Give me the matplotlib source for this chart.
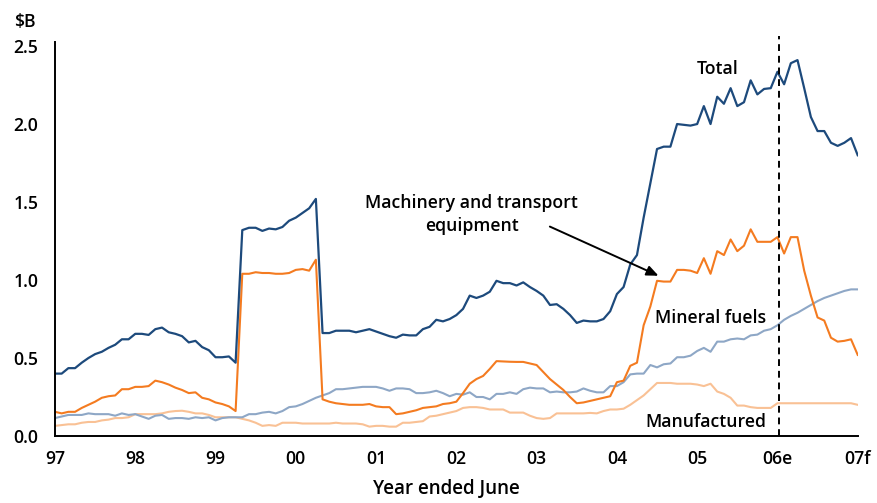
import numpy as np
import matplotlib
matplotlib.use("Agg")
import matplotlib.pyplot as plt

plt.rcParams['font.family'] = ['Open Sans', 'DejaVu Sans']

# monthly values, $B, from 97 to 07f
total = [0.40, 0.40, 0.435, 0.435, 0.47, 0.50, 0.525, 0.54, 0.565, 0.585,
         0.62, 0.62, 0.655, 0.655, 0.648, 0.685, 0.695, 0.665, 0.655, 0.64,
         0.60, 0.61, 0.57, 0.55, 0.505, 0.505, 0.51, 0.47, 1.32, 1.335,
         1.335, 1.315, 1.33, 1.325, 1.34, 1.38, 1.40, 1.43, 1.46, 1.52,
         0.66, 0.66, 0.675, 0.675, 0.675, 0.665, 0.675, 0.685, 0.67, 0.655,
         0.64, 0.63, 0.65, 0.645, 0.645, 0.685, 0.70, 0.745, 0.735, 0.75,
         0.775, 0.815, 0.90, 0.885, 0.90, 0.925, 0.995, 0.98, 0.98, 0.965,
         0.985, 0.955, 0.93, 0.90, 0.84, 0.845, 0.815, 0.775, 0.725, 0.74,
         0.735, 0.735, 0.75, 0.80, 0.91, 0.955, 1.10, 1.16, 1.40, 1.62,
         1.84, 1.855, 1.855, 2.00, 1.995, 1.99, 2.00, 2.115, 2.00, 2.175,
         2.13, 2.23, 2.115, 2.14, 2.28, 2.19, 2.225, 2.23, 2.335, 2.255,
         2.39, 2.41, 2.23, 2.045, 1.955, 1.955, 1.88, 1.86, 1.88, 1.91,
         1.80]

machinery = [0.155, 0.145, 0.155, 0.155, 0.18, 0.20, 0.22, 0.245, 0.255, 0.26,
             0.30, 0.30, 0.315, 0.315, 0.32, 0.355, 0.345, 0.33, 0.31, 0.295,
             0.275, 0.28, 0.245, 0.235, 0.215, 0.205, 0.19, 0.16, 1.04, 1.04,
             1.05, 1.045, 1.045, 1.04, 1.04, 1.045, 1.065, 1.07, 1.06, 1.13,
             0.235, 0.22, 0.21, 0.205, 0.20, 0.20, 0.20, 0.205, 0.19, 0.185,
             0.185, 0.14, 0.145, 0.155, 0.165, 0.18, 0.185, 0.19, 0.205, 0.21,
             0.22, 0.275, 0.335, 0.365, 0.385, 0.43, 0.48, 0.478, 0.476, 0.475,
             0.475, 0.465, 0.455, 0.41, 0.365, 0.33, 0.295, 0.25, 0.21, 0.215,
             0.225, 0.235, 0.245, 0.255, 0.345, 0.355, 0.45, 0.47, 0.71, 0.83,
             0.995, 0.99, 0.99, 1.065, 1.065, 1.06, 1.045, 1.14, 1.04, 1.185,
             1.16, 1.26, 1.185, 1.22, 1.325, 1.245, 1.245, 1.245, 1.275, 1.17,
             1.275, 1.275, 1.06, 0.90, 0.76, 0.74, 0.63, 0.605, 0.61, 0.62,
             0.52]

fuels = [0.115, 0.125, 0.135, 0.135, 0.135, 0.145, 0.14, 0.14, 0.14, 0.13,
         0.145, 0.135, 0.14, 0.125, 0.11, 0.13, 0.135, 0.11, 0.115, 0.115,
         0.11, 0.12, 0.115, 0.12, 0.10, 0.115, 0.12, 0.12, 0.12, 0.14,
         0.14, 0.15, 0.155, 0.145, 0.16, 0.185, 0.19, 0.205, 0.225, 0.245,
         0.26, 0.275, 0.30, 0.30, 0.305, 0.31, 0.315, 0.315, 0.315, 0.305,
         0.29, 0.305, 0.305, 0.30, 0.275, 0.275, 0.28, 0.29, 0.275, 0.255,
         0.27, 0.265, 0.28, 0.25, 0.25, 0.235, 0.27, 0.27, 0.28, 0.27,
         0.30, 0.31, 0.305, 0.305, 0.28, 0.285, 0.28, 0.28, 0.285, 0.305,
         0.29, 0.28, 0.28, 0.32, 0.32, 0.345, 0.395, 0.40, 0.40, 0.455,
         0.44, 0.46, 0.465, 0.505, 0.505, 0.515, 0.545, 0.565, 0.54, 0.605,
         0.605, 0.62, 0.625, 0.62, 0.645, 0.65, 0.675, 0.685, 0.71, 0.745,
         0.77, 0.79, 0.815, 0.84, 0.865, 0.885, 0.90, 0.915, 0.93, 0.94,
         0.94]

manufactured = [0.065, 0.07, 0.075, 0.075, 0.085, 0.09, 0.09, 0.10, 0.105, 0.115,
                0.115, 0.12, 0.14, 0.14, 0.14, 0.14, 0.145, 0.155, 0.16, 0.162,
                0.155, 0.145, 0.145, 0.135, 0.12, 0.12, 0.12, 0.12, 0.11, 0.10,
                0.085, 0.065, 0.07, 0.065, 0.085, 0.085, 0.085, 0.08, 0.08, 0.08,
                0.08, 0.08, 0.085, 0.08, 0.08, 0.08, 0.075, 0.06, 0.065, 0.065,
                0.06, 0.06, 0.085, 0.085, 0.09, 0.095, 0.125, 0.13, 0.14, 0.15,
                0.16, 0.18, 0.185, 0.185, 0.18, 0.17, 0.17, 0.17, 0.15, 0.15,
                0.15, 0.13, 0.115, 0.11, 0.115, 0.145, 0.145, 0.145, 0.145, 0.145,
                0.148, 0.145, 0.16, 0.17, 0.17, 0.175, 0.20, 0.23, 0.26, 0.30,
                0.34, 0.34, 0.34, 0.335, 0.335, 0.335, 0.33, 0.32, 0.335, 0.285,
                0.27, 0.245, 0.195, 0.195, 0.185, 0.18, 0.18, 0.18, 0.21, 0.21,
                0.21, 0.21, 0.21, 0.21, 0.21, 0.21, 0.21, 0.21, 0.21, 0.21,
                0.20]

year_labels = ['97', '98', '99', '00', '01', '02', '03', '04', '05', '06e', '07f']
y_ticks = [0.0, 0.5, 1.0, 1.5, 2.0, 2.5]
estimate_start = 108.2  # month index of the dashed line

months = np.arange(len(total))

fig = plt.figure(figsize=(8.77, 5.03), dpi=100)
ax = fig.add_axes([0.0627, 0.1332, 0.9153, 0.7833])

ax.plot(months, manufactured, color='#f9c195', lw=1.5)
ax.plot(months, fuels, color='#8ea7c6', lw=1.5)
ax.plot(months, machinery, color='#f47b20', lw=1.5)
ax.plot(months, total, color='#1d4a7c', lw=1.6)

ax.axvline(estimate_start, ymin=0, ymax=1.015, color='black', lw=1.4,
           ls=(0, (3.5, 2.5)), clip_on=False)

ax.set_xlim(0, 120)
ax.set_ylim(0, 2.526)
ax.set_xticks(np.arange(0, 121, 12))
ax.set_xticklabels(year_labels)
ax.set_yticks(y_ticks)
ax.set_yticklabels([f'{v:.1f}' for v in y_ticks])
ax.tick_params(length=0, labelsize=12.7)
ax.tick_params(axis='x', pad=10)
ax.tick_params(axis='y', pad=12)
for lab in ax.get_xticklabels() + ax.get_yticklabels():
    lab.set_fontweight('semibold')

for s in ['top', 'right']:
    ax.spines[s].set_visible(False)
for s in ['left', 'bottom']:
    ax.spines[s].set_linewidth(1.4)

ax.set_xlabel('Year ended June', fontsize=13.5, fontweight='semibold')
ax.xaxis.set_label_coords(0.487, -0.108)
fig.text(25 / 877, 1 - 22 / 503, '$B', fontsize=12.7, fontweight='semibold',
         ha='center', va='center')

lab_kw = dict(fontsize=12.7, fontweight='semibold', ha='center', va='center')
ax.text(99.0, 2.35, 'Total', **lab_kw)
ax.text(62.3, 1.42, 'Machinery and transport\nequipment', linespacing=1.35, **lab_kw)
ax.text(98.0, 0.755, 'Mineral fuels', **lab_kw)
ax.text(97.3, 0.09, 'Manufactured', **lab_kw)

ax.annotate('', xy=(90.6, 1.02), xytext=(73.6, 1.35),
            arrowprops=dict(arrowstyle='-|>,head_length=0.7,head_width=0.3',
                            color='black', lw=1.4))

fig.savefig('out.png', dpi=100)
